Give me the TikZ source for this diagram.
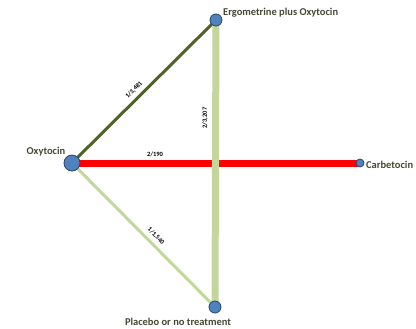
\documentclass[tikz,border=0pt]{standalone}
\usepackage{fontspec}
\setmainfont{Carlito}
\definecolor{nodeblue}{RGB}{79,129,189}
\definecolor{nodeedge}{RGB}{40,70,110}
\definecolor{darkolive}{RGB}{79,98,40}
\definecolor{lightolive}{RGB}{195,214,155}
\definecolor{edgered}{RGB}{255,0,0}
\definecolor{labeltext}{RGB}{68,72,52}
\tikzset{
  trt/.style={circle,fill=nodeblue,draw=nodeedge,line width=0.8bp,inner sep=0pt},
  trtlabel/.style={font=\fontsize{10.5}{12}\selectfont\bfseries,text=labeltext,inner sep=0pt},
  elabel/.style={font=\fontsize{6.5}{8}\selectfont\bfseries,text=black,inner sep=0pt},
}
\begin{document}
\begin{tikzpicture}[x=1bp,y=-1bp]
\useasboundingbox (0,0) rectangle (416,329);
\coordinate (O) at (72,163);
\coordinate (E) at (216,20);
\coordinate (P) at (215,307);
\coordinate (C) at (360,163);
\draw[darkolive,line width=3bp] (O) -- (E);
\draw[lightolive,line width=3bp] (O) -- (P);
\draw[edgered,line width=7bp] (O) -- (C);
\draw[lightolive,line width=7bp] (E) -- (P);
\node[trt,minimum size=16bp] (oxy) at (O) {};
\node[trt,minimum size=12bp] (erg) at (E) {};
\node[trt,minimum size=12bp] (pla) at (P) {};
\node[trt,minimum size=8bp] (car) at (C) {};
\node[trtlabel] (loxy) at (46,152) {Oxytocin};
\node[trtlabel,anchor=west] (lerg) at (223,13) {Ergometrine plus Oxytocin};
\node[trtlabel,anchor=west] (lcar) at (366,165) {Carbetocin};
\node[trtlabel] (lpla) at (178,322) {Placebo or no treatment};
\node[elabel,rotate=44.8] (e1) at (134,90) {1/3,481};
\node[elabel,rotate=90] (e2) at (205,118) {2/3,207};
\node[elabel] (e3) at (155,154) {2/190};
\node[elabel,rotate=-45.2] (e4) at (156,236) {1/1,540};
\end{tikzpicture}
\end{document}
